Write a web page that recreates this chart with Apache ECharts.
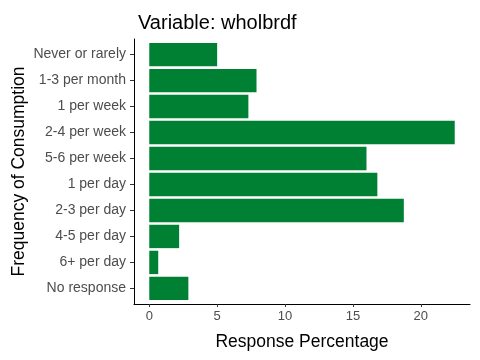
<!DOCTYPE html>
<html><head><meta charset="utf-8">
<script src="https://cdn.jsdelivr.net/npm/echarts@6/dist/echarts.min.js"></script>
<style>html,body{margin:0;padding:0;background:#fff}#c{width:480px;height:360px}</style>
</head><body><div id="c"></div>
<script>
const categories = ["Never or rarely","1-3 per month","1 per week","2-4 per week","5-6 per week","1 per day","2-3 per day","4-5 per day","6+ per day","No response"];
const values = [5.0, 7.9, 7.3, 22.5, 16.0, 16.8, 18.75, 2.2, 0.66, 2.88];
const xTicks = [0, 5, 10, 15, 20];
const titleText = "Variable: wholbrdf";

const chart = echarts.init(document.getElementById('c'), null, {renderer:'canvas'});
const font = "'Liberation Sans', Arial, sans-serif";
const catIdx = categories.map((c,i)=>i);
chart.setOption({
  animation:false,
  backgroundColor:'#fff',
  title:{text:titleText,left:133,top:8,textStyle:{fontFamily:font,fontSize:20,fontWeight:'normal',color:'#000'}},
  grid:{left:134,right:10,top:39,bottom:56,containLabel:false,outerBoundsMode:'none'},
  xAxis:{type:'value',min:-1.125,max:23.625,
    name:'Response Percentage',nameLocation:'middle',nameGap:29,nameMoveOverlap:false,
    nameTextStyle:{fontFamily:font,fontSize:17.5,color:'#000'},
    axisLine:{show:true,onZero:false,lineStyle:{color:'#000',width:1}},
    axisTick:{show:true,length:3,customValues:xTicks,lineStyle:{color:'#333'}},
    axisLabel:{customValues:xTicks,fontFamily:font,fontSize:13,color:'#4d4d4d',margin:6},
    splitLine:{show:false}},
  yAxis:{type:'value',inverse:true,min:-0.6,max:9.6,
    name:'Frequency of Consumption',nameLocation:'middle',nameGap:106,nameRotate:90,nameMoveOverlap:false,
    nameTextStyle:{fontFamily:font,fontSize:17.5,color:'#000'},
    axisLine:{show:true,onZero:false,lineStyle:{color:'#000',width:1}},
    axisTick:{show:true,length:4,customValues:catIdx,lineStyle:{color:'#333'}},
    axisLabel:{customValues:catIdx,formatter:v=>categories[Math.round(v)],fontFamily:font,fontSize:14,color:'#4d4d4d',margin:8,align:'right'},
    splitLine:{show:false}},
  series:[{type:'custom',
    data:values.map((v,i)=>[v,i]),
    encode:{x:0,y:1},
    renderItem:(params,api)=>{
      const val=api.value(0), idx=api.value(1);
      const p0=api.coord([0,idx]), p1=api.coord([val,idx]);
      const h=Math.abs(api.size([0,0.9])[1]);
      return {type:'rect',shape:{x:p0[0],y:p0[1]-h/2,width:p1[0]-p0[0],height:h},style:{fill:'#008033'}};
    }}]
});
</script></body></html>
